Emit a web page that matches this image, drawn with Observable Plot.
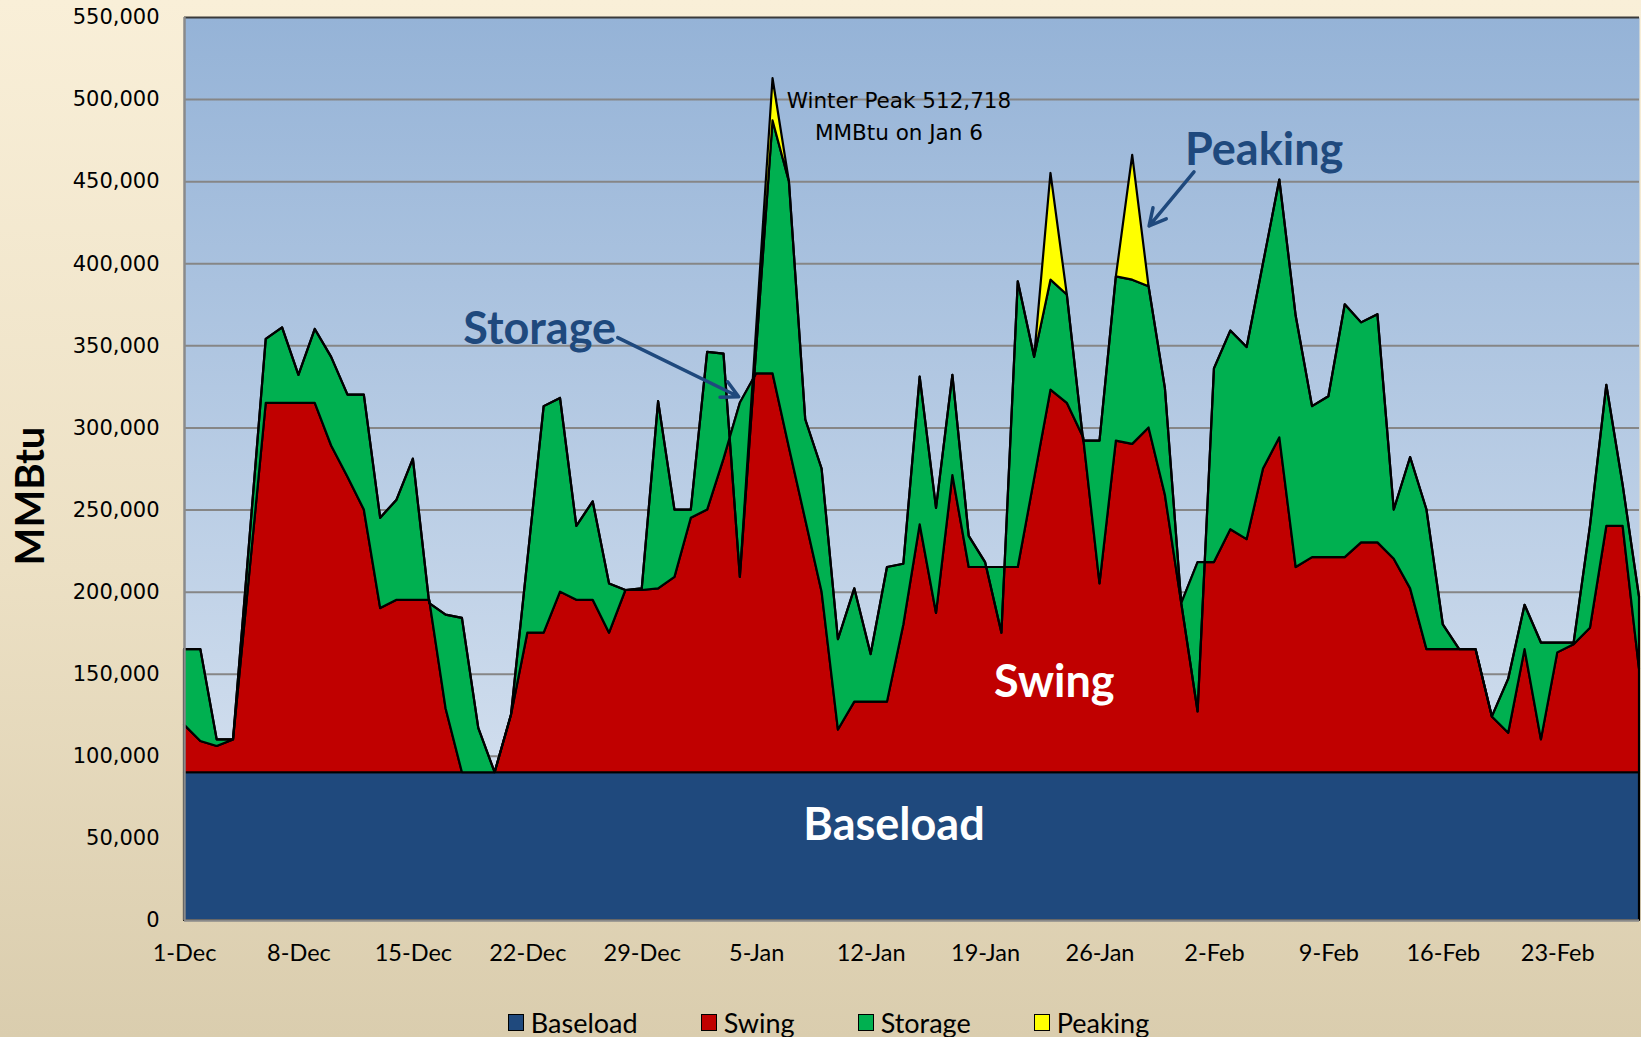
<!DOCTYPE html>
<html>
<head>
<meta charset="utf-8">
<script src="https://cdn.jsdelivr.net/npm/d3@7"></script>
<script src="https://cdn.jsdelivr.net/npm/@observablehq/plot@0.6"></script>
<style>
  html, body { margin: 0; padding: 0; width: 1641px; height: 1037px; overflow: hidden; }
  body { background: linear-gradient(to bottom, #f9efd8 0%, #ece0c4 55%, #dacdae 100%); position: relative; }
  #chart { position: absolute; left: 0; top: 0; }
  #legend { position: absolute; left: 8px; width: 1641px; top: 1006px; display: flex; justify-content: center; gap: 63px;
            font-family: Lato, sans-serif; font-size: 27px; color: #000; }
  .item { display: flex; align-items: center; }
  .sw { width: 14px; height: 15px; border: 1.5px solid #000; margin-right: 7px; }
</style>
</head>
<body>
<div id="chart"></div>
<div id="legend"></div>
<script>
// ---- data (MMBtu per day, 1-Dec .. 28-Feb) ----
const seriesNames = ["Baseload", "Swing", "Storage", "Peaking"];
const seriesColors = ["#1f497d", "#c00000", "#00b050", "#ffff00"];
const baseloadLevel = 90000;
const swing = [29000, 19000, 16000, 20000, 122000, 225000, 225000, 225000, 225000, 199000,
  180000, 160000, 100000, 105000, 105000, 105000, 39000, 0, 0, 0,
  35000, 85000, 85000, 110000, 105000, 105000, 85000, 111000, 111000, 112000,
  119000, 155000, 160000, 191000, 225000, 243000, 243000, 198000, 154000, 110000,
  26000, 43000, 43000, 43000, 90000, 151000, 97000, 181000, 125000, 125000,
  125000, 125000, 179000, 233000, 225000, 204000, 115000, 202000, 200000, 210000,
  169000, 103000, 128000, 128000, 148000, 142000, 185000, 204000, 125000, 131000,
  131000, 131000, 140000, 140000, 130000, 112000, 75000, 75000, 75000, 75000,
  34000, 24000, 75000, 20000, 73000, 78000, 88000, 150000, 150000, 63000];
const storage = [46000, 56000, 4000, 0, 20000, 39000, 46000, 17000, 45000, 54000,
  50000, 70000, 55000, 61000, 86000, -2000, 57000, 94000, 27000, 0,
  0, 44000, 138000, 118000, 45000, 60000, 30000, 0, 1000, 114000,
  41000, 5000, 96000, 64000, -106000, 15000, 154000, 162000, 61000, 75000,
  55000, 69000, 29000, 82000, 37000, 90000, 64000, 61000, 19000, 3000,
  -40000, 174000, 74000, 67000, 66000, -2000, 87000, 100000, 100000, 86000,
  65000, 0, -91000, 118000, 121000, 117000, 125000, 157000, 153000, 92000,
  98000, 154000, 134000, 139000, 30000, 80000, 85000, 15000, 0, 0,
  0, 33000, 27000, 59000, 6000, 1000, 62000, 86000, 25000, 44000];
const peaking = [0, 0, 0, 0, 0, 0, 0, 0, 0, 0,
  0, 0, 0, 0, 0, 0, 0, 0, 0, 0,
  0, 0, 0, 0, 0, 0, 0, 0, 0, 0,
  0, 0, 0, 0, 0, 13000, 25718, 0, 0, 0,
  0, 0, 0, 0, 0, 0, 0, 0, 0, 0,
  0, 0, 0, 65000, 0, 0, 0, 0, 76000, 0,
  0, 0, 0, 0, 0, 0, 0, 0, 0, 0,
  0, 0, 0, 0, 0, 0, 0, 0, 0, 0,
  0, 0, 0, 0, 0, 0, 0, 0, 0, 0];
const xTickDays = [0, 7, 14, 21, 28, 35, 42, 49, 56, 63, 70, 77, 84];
const xTickLabels = ["1-Dec", "8-Dec", "15-Dec", "22-Dec", "29-Dec", "5-Jan", "12-Jan", "19-Jan", "26-Jan", "2-Feb", "9-Feb", "16-Feb", "23-Feb"];
const yTicks = [0, 50000, 100000, 150000, 200000, 250000, 300000, 350000, 400000, 450000, 500000, 550000];

// annotations anchored in data space (day index, MMBtu)
const boldLabels = [
  {text: "Storage", day: 26.4, value: 360000, anchor: "end", color: "#1f497d"},
  {text: "Peaking", day: 61.2, value: 469000, anchor: "start", color: "#1f497d"},
  {text: "Swing", day: 53.2, value: 145000, anchor: "middle", color: "#ffffff"},
  {text: "Baseload", day: 43.4, value: 58000, anchor: "middle", color: "#ffffff"}
];
const arrows = [
  {d1: 26.5, v1: 355000, d2: 33.9, v2: 319000},
  {d1: 61.75, v1: 456000, d2: 59.0, v2: 423000}
];
const peakNote = [{text: "Winter Peak 512,718\nMMBtu on Jan 6", day: 43.7, value: 491400}];

// ---- build cumulative layers ----
const days = d3.range(swing.length);
const components = [days.map(() => baseloadLevel), swing, storage, peaking];
let lower = days.map(() => 0);
const layers = components.map((vals, k) => {
  const upper = days.map(i => lower[i] + vals[i]);
  const rows = days.map(i => ({day: i, y1: lower[i], y2: upper[i]}));
  lower = upper;
  return rows;
});

const areaMarks = layers.map((rows, k) => Plot.areaY(rows, {
  x: "day", y1: "y1", y2: "y2", fill: seriesColors[k], stroke: "#000", strokeWidth: 2.2, curve: "linear"
}));

const chart = Plot.plot({
  width: 1641, height: 990,
  marginLeft: 184, marginRight: 2, marginTop: 17, marginBottom: 70,
  x: {domain: [0, 89]},
  y: {domain: [0, 550000]},
  style: {background: "transparent", fontFamily: "DejaVu Sans", color: "#000", overflow: "visible"},
  marks: [
    Plot.frame({fill: "url(#plotBg)", stroke: null}),
    Plot.ruleY(yTicks.filter(v => v > 0 && v < 550000), {stroke: "#868686", strokeWidth: 2}),
    ...areaMarks,
    Plot.ruleY([550000], {stroke: "#3a3a3a", strokeWidth: 2}),
    Plot.ruleY([0], {stroke: "#8a8a8a", strokeWidth: 2.5}),
    Plot.ruleX([0], {stroke: "#8a8a8a", strokeWidth: 2.5}),
    Plot.axisY({ticks: yTicks, tickSize: 0, tickPadding: 25, tickFormat: d3.format(","), fontSize: 21, fontFamily: "DejaVu Sans", label: null}),
    Plot.axisX({ticks: xTickDays, tickSize: 0, tickPadding: 24, tickFormat: d => xTickLabels[xTickDays.indexOf(d)], fontSize: 23.5, fontFamily: "Lato", label: null}),
    Plot.text(["MMBtu"], {frameAnchor: "left", textAnchor: "middle", dx: -153, dy: 27, rotate: -90, fontSize: 40, fontWeight: "bold", fontFamily: "Lato"}),
    Plot.text(peakNote, {x: "day", y: "value", text: "text", fontSize: 21.5, fontFamily: "DejaVu Sans", lineHeight: 1.49, fill: "#000"}),
    Plot.arrow(arrows, {x1: "d1", y1: "v1", x2: "d2", y2: "v2", stroke: "#1f497d", strokeWidth: 3.5, headLength: 8, headAngle: 55}),
    ...boldLabels.map(l => Plot.text([l], {x: "day", y: "value", text: "text", textAnchor: l.anchor, fill: l.color,
      fontSize: 45, fontWeight: "bold", fontFamily: "Lato"}))
  ]
});

const svg = d3.select(chart);
const defs = svg.insert("defs", ":first-child");
const grad = defs.append("linearGradient").attr("id", "plotBg").attr("x1", 0).attr("y1", 0).attr("x2", 0).attr("y2", 1);
grad.append("stop").attr("offset", "0%").attr("stop-color", "#95b3d7");
grad.append("stop").attr("offset", "100%").attr("stop-color", "#dce6f2");
document.getElementById("chart").appendChild(chart);

// legend
const legend = d3.select("#legend");
seriesNames.forEach((name, k) => {
  const item = legend.append("div").attr("class", "item");
  item.append("div").attr("class", "sw").style("background", seriesColors[k]);
  item.append("span").text(name);
});
</script>
</body>
</html>
